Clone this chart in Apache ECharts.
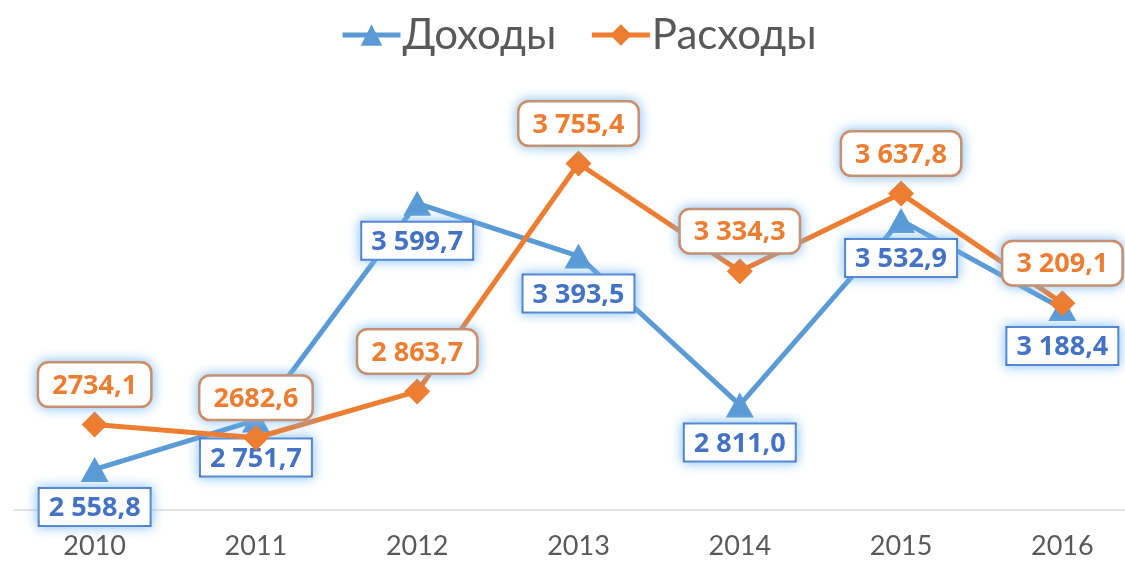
<!DOCTYPE html>
<html>
<head>
<meta charset="utf-8">
<script src="https://cdn.jsdelivr.net/npm/echarts@6/dist/echarts.min.js"></script>
<style>
    html, body { margin: 0; padding: 0; background: #fff; }
    #chart { width: 1125px; height: 563px; }
</style>
</head>
<body>
<div id="chart"></div>
<script>
const years = ['2010', '2011', '2012', '2013', '2014', '2015', '2016'];
const income = [2558.8, 2751.7, 3599.7, 3393.5, 2811.0, 3532.9, 3188.4];
const expenses = [2734.1, 2682.6, 2863.7, 3755.4, 3334.3, 3637.8, 3209.1];
const incomeLabels = ['2 558,8', '2 751,7', '3 599,7', '3 393,5', '2 811,0', '3 532,9', '3 188,4'];
const expenseLabels = ['2734,1', '2682,6', '2 863,7', '3 755,4', '3 334,3', '3 637,8', '3 209,1'];

const blue = '#5B9BD5';
const orange = '#ED7D31';
const glow = 'rgba(120, 185, 245, 0.85)';

const chart = echarts.init(document.getElementById('chart'));

chart.setOption({
    animation: false,
    textStyle: { fontFamily: 'Lato' },
    legend: {
        top: 9,
        left: 335,
        itemWidth: 58,
        itemHeight: 27,
        itemGap: 33,
        lineStyle: { width: 5 },
        textStyle: { fontSize: 42, color: '#595959', fontFamily: 'Lato', padding: [0, 0, 0, -3] },
        data: ['Доходы', 'Расходы']
    },
    grid: {
        left: 14,
        width: 1129,
        top: 101,
        bottom: 53,
        outerBoundsMode: 'none'
    },
    xAxis: {
        type: 'category',
        data: years,
        axisLine: { lineStyle: { color: '#D9D9D9', width: 1.5 } },
        axisTick: { show: false },
        axisLabel: { color: '#595959', fontSize: 27, margin: 23 }
    },
    yAxis: {
        type: 'value',
        min: 2400,
        max: 4000,
        show: false,
        splitLine: { show: false }
    },
    series: [
        {
            name: 'Доходы',
            type: 'line',
            data: income,
            symbol: 'triangle',
            symbolSize: [28, 25],
            lineStyle: { color: blue, width: 5 },
            itemStyle: { color: blue },
            z: 2,
            label: {
                show: true,
                position: 'bottom',
                distance: 7,
                formatter: p => incomeLabels[p.dataIndex],
                color: '#4472C4',
                fontFamily: 'Open Sans',
                fontWeight: 'bold',
                fontSize: 27,
                backgroundColor: '#fff',
                borderColor: '#4472C4',
                borderWidth: 2,
                padding: [6, 9, 3, 9],
                shadowColor: glow,
                shadowBlur: 12
            }
        },
        {
            name: 'Расходы',
            type: 'line',
            data: expenses,
            symbol: 'diamond',
            symbolSize: [26, 26],
            lineStyle: { color: orange, width: 5 },
            itemStyle: { color: orange },
            z: 3,
            label: {
                show: true,
                position: 'top',
                distance: 6,
                formatter: p => expenseLabels[p.dataIndex],
                color: orange,
                fontFamily: 'Open Sans',
                fontWeight: 'bold',
                fontSize: 27,
                backgroundColor: '#fff',
                borderColor: orange,
                borderWidth: 2.5,
                borderRadius: 9,
                padding: [9, 13, 6, 13],
                shadowColor: glow,
                shadowBlur: 12
            }
        }
    ]
});
</script>
</body>
</html>
